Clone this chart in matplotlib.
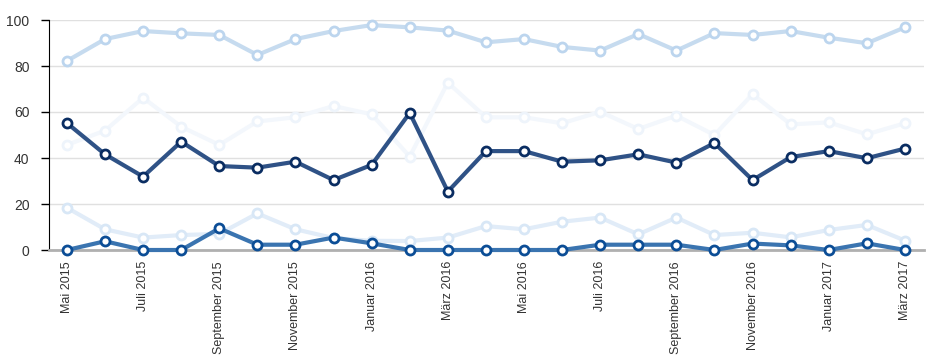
import matplotlib
matplotlib.use("Agg")
import matplotlib.pyplot as plt
import numpy as np

plt.rcParams['font.family'] = ['Liberation Sans', 'DejaVu Sans']

months = ["Mai 2015", "Juni 2015", "Juli 2015", "August 2015", "September 2015",
          "Oktober 2015", "November 2015", "Dezember 2015", "Januar 2016",
          "Februar 2016", "März 2016", "April 2016", "Mai 2016", "Juni 2016",
          "Juli 2016", "August 2016", "September 2016", "Oktober 2016",
          "November 2016", "Dezember 2016", "Januar 2017", "Februar 2017",
          "März 2017"]

top_series = [82.2, 91.7, 95.2, 94.2, 93.5, 84.8, 91.7, 95.2, 97.8, 96.8, 95.4,
              90.3, 91.7, 88.3, 86.7, 93.9, 86.7, 94.3, 93.5, 95.2, 92.3, 89.9, 96.8]
faint_mid = [45.7, 51.9, 66.2, 53.6, 45.7, 55.9, 57.7, 62.6, 59.0, 40.6, 72.8,
             57.7, 57.7, 55.1, 60.1, 52.6, 58.4, 50.0, 67.8, 54.6, 55.5, 50.3, 55.1]
dark_series = [55.2, 41.6, 31.9, 47.1, 36.5, 35.8, 38.4, 30.4, 37.0, 59.6, 25.4,
               43.0, 43.0, 38.4, 39.0, 41.6, 38.0, 46.5, 30.4, 40.4, 43.0, 39.9, 44.1]
faint_low = [18.4, 9.0, 5.4, 6.5, 7.0, 15.9, 9.0, 5.2, 4.0, 3.9, 5.4,
             10.4, 9.0, 12.3, 14.1, 6.8, 14.1, 6.5, 7.5, 5.5, 8.7, 10.9, 4.1]
blue_low = [0, 3.8, 0, 0, 9.4, 2.3, 2.3, 5.4, 2.9, 0, 0,
            0, 0, 0, 2.3, 2.3, 2.3, 0, 2.8, 2.0, 0, 2.9, 0]

x = np.arange(len(months))

fig = plt.figure(figsize=(9.45, 3.64), dpi=100)
ax = fig.add_axes([49/945, 114/364, (924-49)/945, 230/364])

styles = [
    (faint_mid, '#f3f7fc', '#eef4fb'),
    (top_series, '#c6dbef', '#bcd5ee'),
    (faint_low, '#e1ecf8', '#d8e7f6'),
    (blue_low, '#3a74b0', '#0b4d96'),
    (dark_series, '#2f5286', '#0a2d62'),
]
for vals, lc, mc in styles:
    ax.plot(x, vals, color=lc, lw=3, marker='o', ms=6.5, mfc='white',
            mec=mc, mew=2, clip_on=False, zorder=3)

ax.set_xlim(-0.47, len(months) - 0.5)
ax.set_ylim(0, 100)
ax.set_yticks([0, 20, 40, 60, 80, 100])
ax.yaxis.grid(True, color='#e0e0e0', lw=1)
ax.set_axisbelow(True)

ax.set_xticks(x[::2])
ax.set_xticklabels(months[::2], rotation=90, fontsize=9, color='#333333')
ax.tick_params(axis='x', length=0, pad=8)
ax.tick_params(axis='y', length=6, width=1, color='black', labelsize=10,
               labelcolor='#333333', pad=8)

for s in ['top', 'right']:
    ax.spines[s].set_visible(False)
ax.spines['left'].set_color('black')
ax.spines['bottom'].set_color('#b0b0b0')
ax.spines['bottom'].set_linewidth(2)

fig.savefig('out.png', dpi=100)
